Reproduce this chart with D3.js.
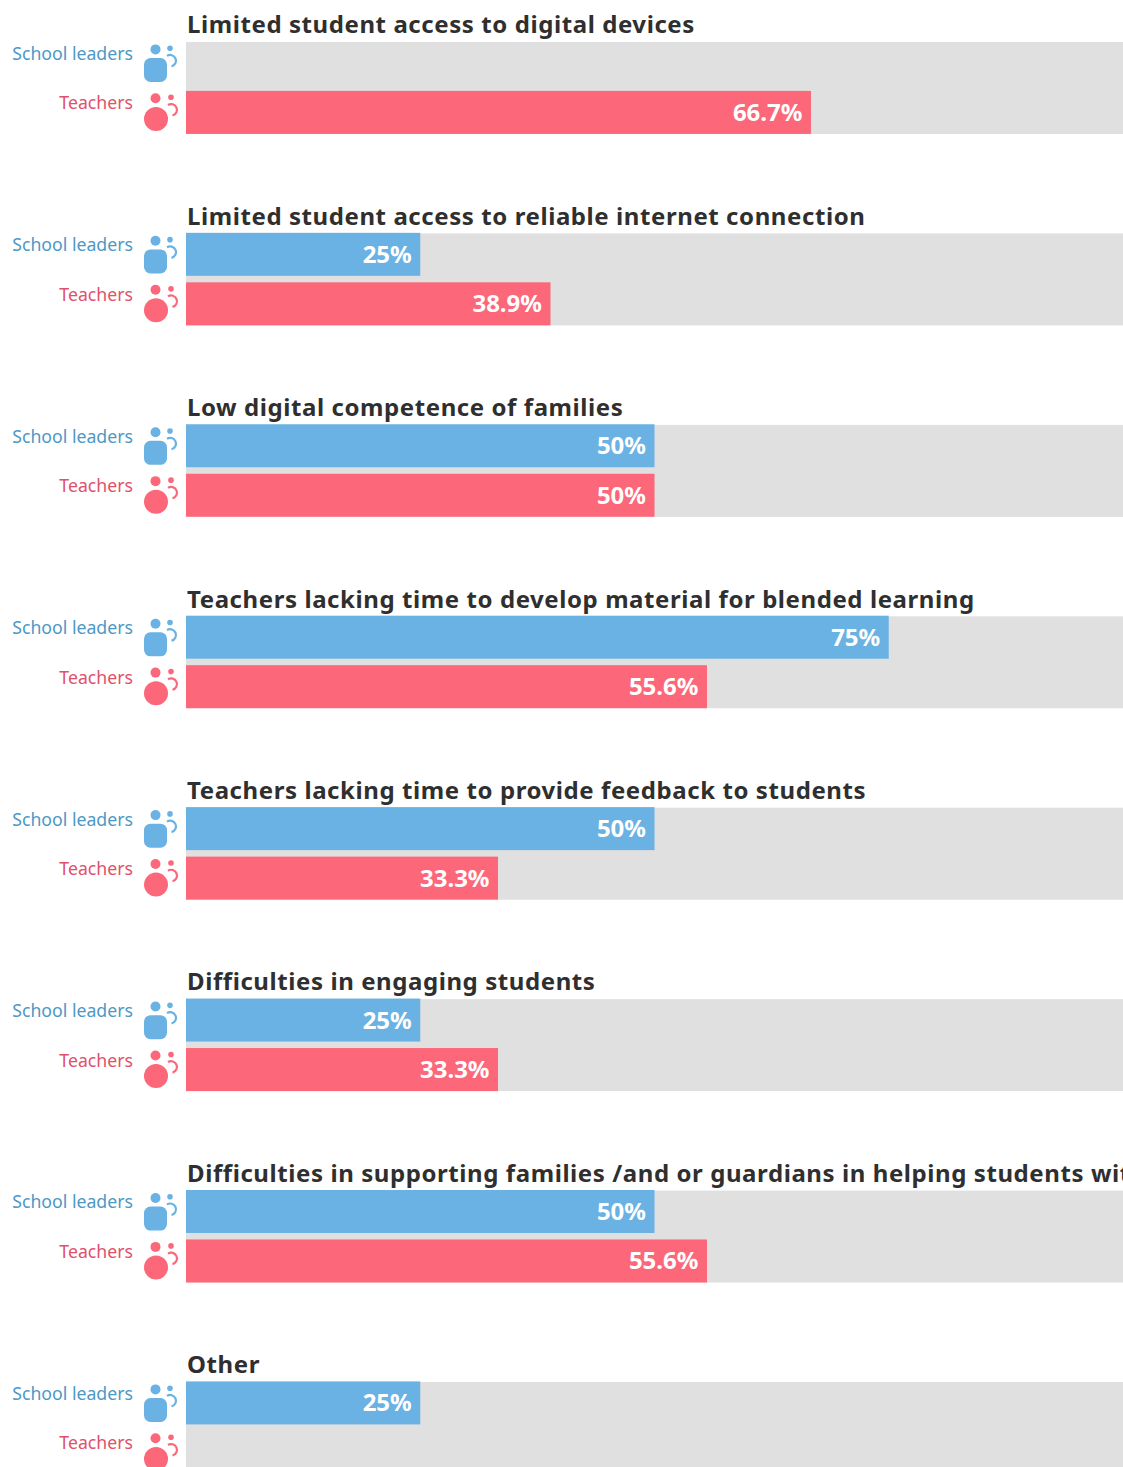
<!DOCTYPE html>
<html>
<head>
<meta charset="utf-8">
<script src="https://cdn.jsdelivr.net/npm/d3@7"></script>
<style>
  html, body { margin: 0; padding: 0; background: #fff; overflow: hidden; }
  text { font-family: "Noto Sans", sans-serif; }
</style>
</head>
<body>
<div id="container"></div>
<script>
/* CONSTANTS AND GLOBALS */
const width = 1123;
const height = 1467;
const barLeft = 186;
const groupStep = 191.43;
const firstTop = 41.4;

// DATA
const categories = [
  "Limited student access to digital devices",
  "Limited student access to reliable internet connection",
  "Low digital competence of families",
  "Teachers lacking time to develop material for blended learning",
  "Teachers lacking time to provide feedback to students",
  "Difficulties in engaging students",
  "Difficulties in supporting families /and or guardians in helping students with distance learning",
  "Other"
];
const schoolLeaders = [null, 25, 50, 75, 50, 25, 50, 25];
const teachers = [66.7, 38.9, 50, 55.6, 33.3, 33.3, 55.6, null];
const roles = ["School leaders", "Teachers"];

const barColor = { "School leaders": "#6ab2e3", "Teachers": "#fc6779" };
const labelColor = { "School leaders": "#4d98c6", "Teachers": "#e2506a" };

const svg = d3.select("#container")
  .append("svg")
  .attr("width", width)
  .attr("height", height)
  .style("display", "block");

const xScale = d3.scaleLinear()
  .domain([0, 100])
  .range([barLeft, 1123]);

const yScale = d3.scaleBand()
  .domain(roles)
  .range([0, 92.5])
  .paddingInner(6.5 / 49.5);

const groups = svg.selectAll(".group")
  .data(categories)
  .join("g")
  .attr("class", "group")
  .attr("transform", (d, i) => `translate(0, ${firstTop + i * groupStep})`);

// grey track behind each pair
groups.append("rect")
  .attr("x", xScale(0))
  .attr("y", 0.6)
  .attr("width", xScale(100) - xScale(0))
  .attr("height", 92)
  .attr("fill", "#e0e0e0");

// title, runs off the right edge on the long one like the original
groups.append("text")
  .attr("x", barLeft + 1)
  .attr("y", -8.2)
  .style("font-size", "24px")
  .style("font-weight", 700)
  .style("letter-spacing", "0.58px")
  .style("fill", "#2f2f2f")
  .text(d => d);

roles.forEach((role, r) => {
  const values = r === 0 ? schoolLeaders : teachers;

  groups.append("text")
    .attr("x", 133)
    .attr("y", yScale(role) + 18.5)
    .attr("text-anchor", "end")
    .style("font-size", "17.7px")
    .style("font-weight", 400)
    .style("fill", labelColor[role])
    .text(role);

  // little person + pupil icon
  const icon = groups.append("g")
    .attr("transform", `translate(0, ${yScale(role)})`)
    .attr("fill", barColor[role]);

  icon.append("circle").attr("cx", 155.5).attr("cy", 8 - r * 0.6).attr("r", 5);

  const pupil = icon.append("g").attr("transform", `translate(${r}, ${-r * 0.4})`);
  pupil.append("circle").attr("cx", 170).attr("cy", 6.8).attr("r", 2.8);
  pupil.append("path")
    .attr("d", "M167,14.5 A5.8,5.8 0 1 1 171.5,25")
    .attr("fill", "none")
    .attr("stroke", barColor[role])
    .attr("stroke-width", 2.2);

  if (r === 0) {
    icon.append("rect")
      .attr("x", 144).attr("y", 16.6)
      .attr("width", 23).attr("height", 24)
      .attr("rx", 6.5);
  } else {
    icon.append("circle").attr("cx", 156).attr("cy", 28).attr("r", 12);
  }

  // bars
  const bars = groups.filter((d, i) => values[i] != null);
  bars.append("rect")
    .attr("x", xScale(0))
    .attr("y", yScale(role))
    .attr("width", d => xScale(values[categories.indexOf(d)]) - xScale(0))
    .attr("height", yScale.bandwidth())
    .attr("fill", barColor[role]);

  bars.append("text")
    .attr("x", d => xScale(values[categories.indexOf(d)]) - 8.5)
    .attr("y", yScale(role) + 30)
    .attr("text-anchor", "end")
    .style("font-size", "24px")
    .style("font-weight", 700)
    .style("fill", "#fff")
    .text(d => values[categories.indexOf(d)] + "%");
});
</script>
</body>
</html>
